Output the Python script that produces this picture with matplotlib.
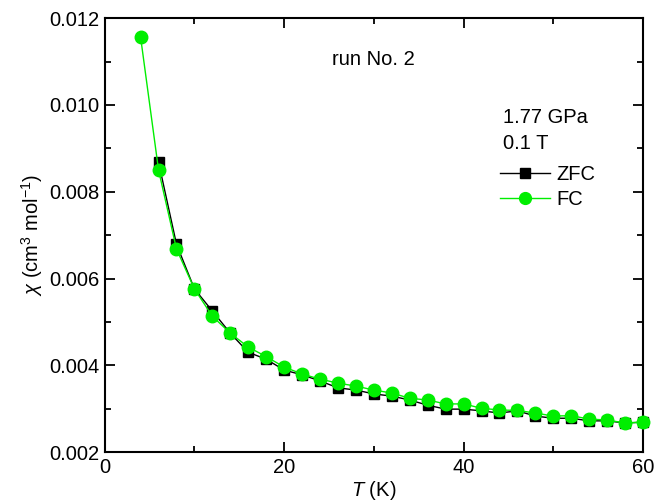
import matplotlib
matplotlib.use("Agg")
import matplotlib.pyplot as plt
from matplotlib.ticker import MultipleLocator, FormatStrFormatter
from matplotlib.lines import Line2D

plt.rcParams['font.family'] = ['Liberation Sans', 'DejaVu Sans']
plt.rcParams['mathtext.fontset'] = 'custom'
plt.rcParams['mathtext.rm'] = 'Liberation Sans'
plt.rcParams['mathtext.it'] = 'Liberation Sans:italic'

# Temperature (K) and susceptibility (cm^3/mol)
T_zfc = [6, 8, 10, 12, 14, 16, 18, 20, 22, 24, 26, 28, 30, 32, 34, 36, 38, 40,
         42, 44, 46, 48, 50, 52, 54, 56, 58, 60]
chi_zfc = [0.00868, 0.00679, 0.00576, 0.00525, 0.00474, 0.00430, 0.00414, 0.00389,
           0.00378, 0.00364, 0.00348, 0.00343, 0.00334, 0.00329, 0.00320, 0.00308,
           0.00299, 0.00299, 0.00295, 0.00290, 0.00295, 0.00283, 0.00278, 0.00278,
           0.00272, 0.00272, 0.00267, 0.00269]
T_fc = [4, 6, 8, 10, 12, 14, 16, 18, 20, 22, 24, 26, 28, 30, 32, 34, 36, 38, 40,
        42, 44, 46, 48, 50, 52, 54, 56, 58, 60]
chi_fc = [0.01156, 0.00850, 0.00668, 0.00576, 0.00513, 0.00474, 0.00442, 0.00420,
          0.00396, 0.00380, 0.00368, 0.00359, 0.00352, 0.00343, 0.00336, 0.00324,
          0.00320, 0.00311, 0.00311, 0.00301, 0.00297, 0.00296, 0.00290, 0.00283,
          0.00284, 0.00276, 0.00274, 0.00267, 0.00269]

green = '#00ee00'
fs = 14.5

fig = plt.figure(figsize=(6.67, 5.04), dpi=100)
ax = fig.add_axes([0.157, 0.103, 0.807, 0.861])

ax.plot(T_zfc, chi_zfc, color='black', lw=1.0, marker='s', ms=7.5,
        mec='black', mfc='black', clip_on=False, zorder=3)
ax.plot(T_fc, chi_fc, color=green, lw=1.0, marker='o', ms=9,
        mec=green, mfc=green, clip_on=False, zorder=4)

ax.set_xlim(0, 60)
ax.set_ylim(0.002, 0.012)
ax.xaxis.set_major_locator(MultipleLocator(20))
ax.xaxis.set_minor_locator(MultipleLocator(10))
ax.yaxis.set_major_locator(MultipleLocator(0.002))
ax.yaxis.set_minor_locator(MultipleLocator(0.001))
ax.yaxis.set_major_formatter(FormatStrFormatter('%.3f'))
ax.xaxis.set_major_formatter(FormatStrFormatter('%d'))

ax.tick_params(which='both', direction='in', top=True, right=True, width=1.3,
               labelsize=fs)
ax.tick_params(which='major', length=7, pad=4)
ax.tick_params(which='minor', length=4)
for s in ax.spines.values():
    s.set_linewidth(1.5)

ax.set_xlabel(r'$T$ (K)', fontsize=fs, labelpad=2)
ax.set_ylabel(r'$\chi$ (cm$^3$ mol$^{-1}$)', fontsize=fs, labelpad=3)

ax.text(0.5, 0.905, 'run No. 2', transform=ax.transAxes, ha='center',
        va='center', fontsize=fs)
ax.text(0.740, 0.772, '1.77 GPa', transform=ax.transAxes, ha='left',
        va='center', fontsize=fs)
ax.text(0.740, 0.710, '0.1 T', transform=ax.transAxes, ha='left',
        va='center', fontsize=fs)

handles = [Line2D([], [], color='black', lw=1.0, marker='s', ms=7),
           Line2D([], [], color=green, lw=1.0, marker='o', ms=8.5)]
ax.legend(handles, ['ZFC', 'FC'], loc='upper left',
          bbox_to_anchor=(0.735, 0.662), frameon=False, fontsize=fs,
          handlelength=2.45, handletextpad=0.35, labelspacing=0.3,
          borderaxespad=0, borderpad=0)

fig.savefig('out.png', dpi=100)
